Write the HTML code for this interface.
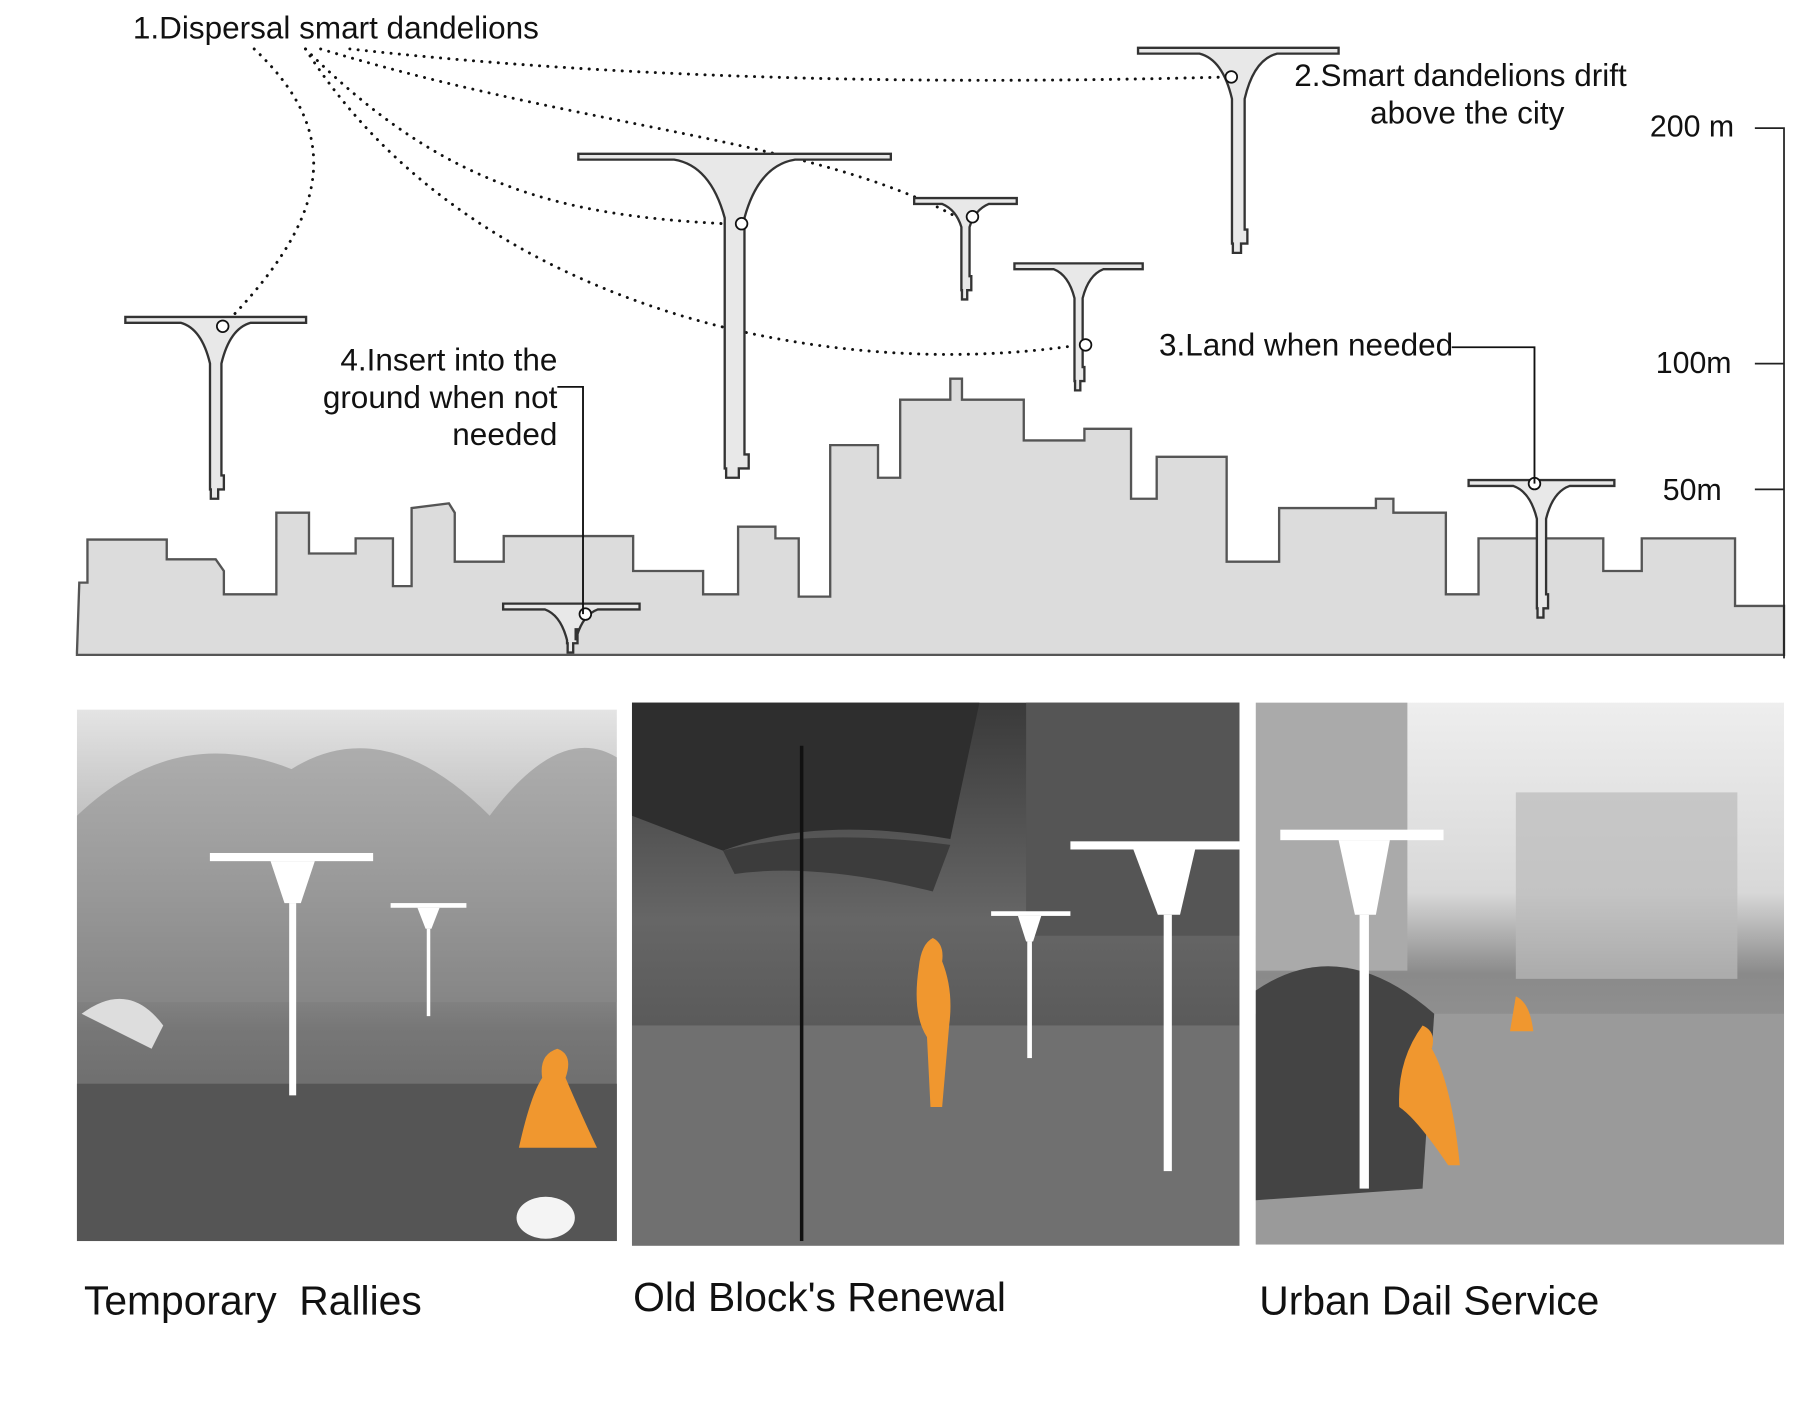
<!DOCTYPE html>
<html><head><meta charset="utf-8">
<style>
html,body{margin:0;padding:0;background:#fff;}
svg{display:block;}
text{font-family:"Liberation Sans",sans-serif;fill:#111;}
</style></head>
<body>
<svg id="s" width="1805" height="1403" viewBox="0 0 1548 1204" preserveAspectRatio="none" xmlns="http://www.w3.org/2000/svg">
<defs>
<linearGradient id="g1" x1="0" y1="0" x2="0" y2="1"><stop offset="0" stop-color="#e4e4e4"/><stop offset="0.35" stop-color="#a8a8a8"/><stop offset="0.6" stop-color="#777"/><stop offset="1" stop-color="#5a5a5a"/></linearGradient>
<linearGradient id="g2" x1="0" y1="0" x2="0" y2="1"><stop offset="0" stop-color="#3a3a3a"/><stop offset="0.4" stop-color="#666"/><stop offset="0.6" stop-color="#5a5a5a"/><stop offset="1" stop-color="#7a7a7a"/></linearGradient>
<linearGradient id="g3" x1="0" y1="0" x2="0" y2="1"><stop offset="0" stop-color="#eee"/><stop offset="0.35" stop-color="#d8d8d8"/><stop offset="0.5" stop-color="#8a8a8a"/><stop offset="1" stop-color="#aaa"/></linearGradient>
</defs>
<g id="sky">
<path d="M66,560 L68,500 L75,500 L75,463 L143,463 L143,480 L185,480 L192,490 L192,510 L237,510 L237,440 L265,440 L265,475 L305,475 L305,462 L337,462 L337,503 L353,503 L353,436 L385,432 L390,440 L390,482 L432,482 L432,460 L543,460 L543,490 L603,490 L603,510 L633,510 L633,452 L665,452 L665,462 L685,462 L685,512 L712,512 L712,382 L753,382 L753,410 L772,410 L772,343 L815,343 L815,325 L825,325 L825,343 L878,343 L878,378 L930,378 L930,368 L970,368 L970,428 L992,428 L992,392 L1052,392 L1052,482 L1097,482 L1097,436 L1180,436 L1180,428 L1195,428 L1195,440 L1240,440 L1240,510 L1268,510 L1268,462 L1375,462 L1375,490 L1408,490 L1408,462 L1488,462 L1488,520 L1530,520 L1530,562 L66,562 Z" fill="#dcdcdc" stroke="#555" stroke-width="2"/>
</g>
<g id="scale" stroke="#222" stroke-width="1.5" fill="none">
<path d="M1505,110 H1530 V565 M1505,312 H1530 M1505,420 H1530"/>
</g>
<text x="1415" y="117" font-size="26">200 m</text>
<text x="1420" y="320" font-size="26">100m</text>
<text x="1426" y="429" font-size="26">50m</text>
<g id="dots" fill="none" stroke="#111" stroke-width="2.5" stroke-dasharray="0.1 7" stroke-linecap="round">
<path d="M218,42 C290,110 290,180 191,280"/>
<path d="M262,42 C380,160 480,185 622,192"/>
<path d="M262,42 C400,260 700,330 926,296"/>
<path d="M275,42 C500,110 700,120 820,186"/>
<path d="M300,42 C600,75 900,70 1056,66"/>
</g>
<g id="lamps"></g>
<g fill="none" stroke="#111" stroke-width="1.6">
<path d="M478,332 H500 V527"/>
<path d="M1245,298 H1316 V415"/>
</g>
<text x="114" y="33" font-size="27">1.Dispersal smart dandelions</text>
<text x="1110" y="74" font-size="27">2.Smart dandelions drift</text>
<text x="1175" y="106" font-size="27">above the city</text>
<text x="994" y="305" font-size="27">3.Land when needed</text>
<text x="478" y="318" font-size="27" text-anchor="end">4.Insert into the</text>
<text x="478" y="350" font-size="27" text-anchor="end">ground when not</text>
<text x="478" y="382" font-size="27" text-anchor="end">needed</text>

<g>
<rect x="66" y="609" width="463" height="456" fill="url(#g1)"/>
<path d="M66,700 Q150,620 250,660 Q330,610 420,700 Q480,620 529,650 V860 H66Z" fill="#8a8a8a" opacity="0.55"/>
<rect x="66" y="930" width="463" height="135" fill="#555"/>
<path d="M70,870 Q110,840 140,880 L130,900 Z" fill="#ddd"/>
<rect x="180" y="732" width="140" height="7" fill="#fff"/><path d="M232,739 H270 L258,775 H244Z" fill="#fff"/><rect x="248" y="775" width="6" height="165" fill="#fff"/>
<rect x="335" y="775" width="65" height="4" fill="#fff"/><path d="M358,779 H377 L370,797 H365Z" fill="#fff"/><rect x="366" y="797" width="3" height="75" fill="#fff"/>
<path d="M478,900 Q492,905 485,925 Q500,960 512,985 L445,985 Q455,940 465,925 Q462,905 478,900Z" fill="#f0972f"/>
<ellipse cx="468" cy="1045" rx="25" ry="18" fill="#f4f4f4"/>
</g>
<g>
<rect x="542" y="603" width="521" height="466" fill="url(#g2)"/>
<rect x="542" y="880" width="521" height="189" fill="#707070"/>
<path d="M542,603 H840 L815,720 Q700,700 620,730 L542,700Z" fill="#2e2e2e"/>
<path d="M620,730 Q700,710 815,725 L800,765 Q700,740 630,750Z" fill="#3c3c3c"/>
<rect x="686" y="640" width="3" height="425" fill="#111"/>
<rect x="880" y="603" width="183" height="200" fill="#555"/>
<rect x="918" y="722" width="145" height="7" fill="#fff"/><path d="M972,729 H1025 L1012,785 H993Z" fill="#fff"/><rect x="998" y="785" width="7" height="220" fill="#fff"/>
<rect x="850" y="782" width="68" height="4" fill="#fff"/><path d="M873,786 H893 L886,808 H880Z" fill="#fff"/><rect x="881" y="808" width="4" height="100" fill="#fff"/>
<path d="M800,805 Q810,810 808,825 Q818,850 814,880 L808,950 L798,950 L795,890 Q782,870 788,830 Q790,810 800,805Z" fill="#f0972f"/>
</g>
<g>
<rect x="1077" y="603" width="453" height="465" fill="url(#g3)"/>
<rect x="1077" y="603" width="130" height="230" fill="#aaa"/>
<rect x="1300" y="680" width="190" height="160" fill="#bbb" opacity="0.7"/>
<rect x="1077" y="870" width="453" height="198" fill="#9a9a9a"/>
<path d="M1077,850 Q1150,800 1230,870 L1220,1020 L1077,1030Z" fill="#444"/>
<rect x="1098" y="712" width="140" height="9" fill="#fff"/><path d="M1148,721 H1192 L1180,785 H1162Z" fill="#fff"/><rect x="1166" y="785" width="8" height="235" fill="#fff"/>
<path d="M1220,880 Q1232,885 1228,900 Q1245,930 1252,1000 L1242,1000 Q1215,960 1200,950 Q1198,910 1220,880Z" fill="#f0972f"/>
<path d="M1300,855 Q1312,860 1315,885 L1295,885Z" fill="#f0972f"/>
</g>
<text x="72" y="1128" font-size="35">Temporary&#160; Rallies</text>
<text x="543" y="1125" font-size="35">Old Block's Renewal</text>
<text x="1080" y="1128" font-size="35">Urban Dail Service</text>
</svg>
<script>
const NS='http://www.w3.org/2000/svg';
const lampX=[185,630,828,925,1062,1322,490];
const lampTop=[272,132,170,226,41,412,518];
const lampW=[155,268,88,110,172,125,117];
const lampBottom=[428,410,257,335,217,530,560];
const lampHole=[280,192,186,296,66,415,527];
const g=document.getElementById('lamps');
for(let i=0;i<lampX.length;i++){
  const cx=lampX[i],t=lampTop[i],w=lampW[i],b=lampBottom[i];
  const s=w/155;
  const fw=Math.max(20,30*s), fh=Math.max(20,Math.min(55,35*s+5));
  const sw=Math.max(5,7*s);
  const p=document.createElementNS(NS,'path');
  const d=`M${cx-w/2},${t} H${cx+w/2} V${t+5} H${cx+fw} Q${cx+fw*0.4},${t+10} ${cx+sw*0.7},${t+fh} V${b-20} H${cx+sw} V${b-8} H${cx+sw*0.3} V${b} H${cx-sw*0.6} V${b-8} H${cx-sw*0.7} V${t+fh} Q${cx-fw*0.4},${t+10} ${cx-fw},${t+5} H${cx-w/2} Z`;
  p.setAttribute('d',d);
  p.setAttribute('fill','#e8e8e8');
  p.setAttribute('stroke','#333');
  p.setAttribute('stroke-width','2');
  
  
  g.appendChild(p);
  const c=document.createElementNS(NS,'circle');
  c.setAttribute('cx',cx+(i===4?-6:(i===5?-6:(i===6?12:6))));
  c.setAttribute('cy',lampHole[i]);
  c.setAttribute('r','5');
  c.setAttribute('fill','#fff');
  c.setAttribute('stroke','#111');
  c.setAttribute('stroke-width','1.5');
  
  
  g.appendChild(c);
}
</script>
</body></html>
